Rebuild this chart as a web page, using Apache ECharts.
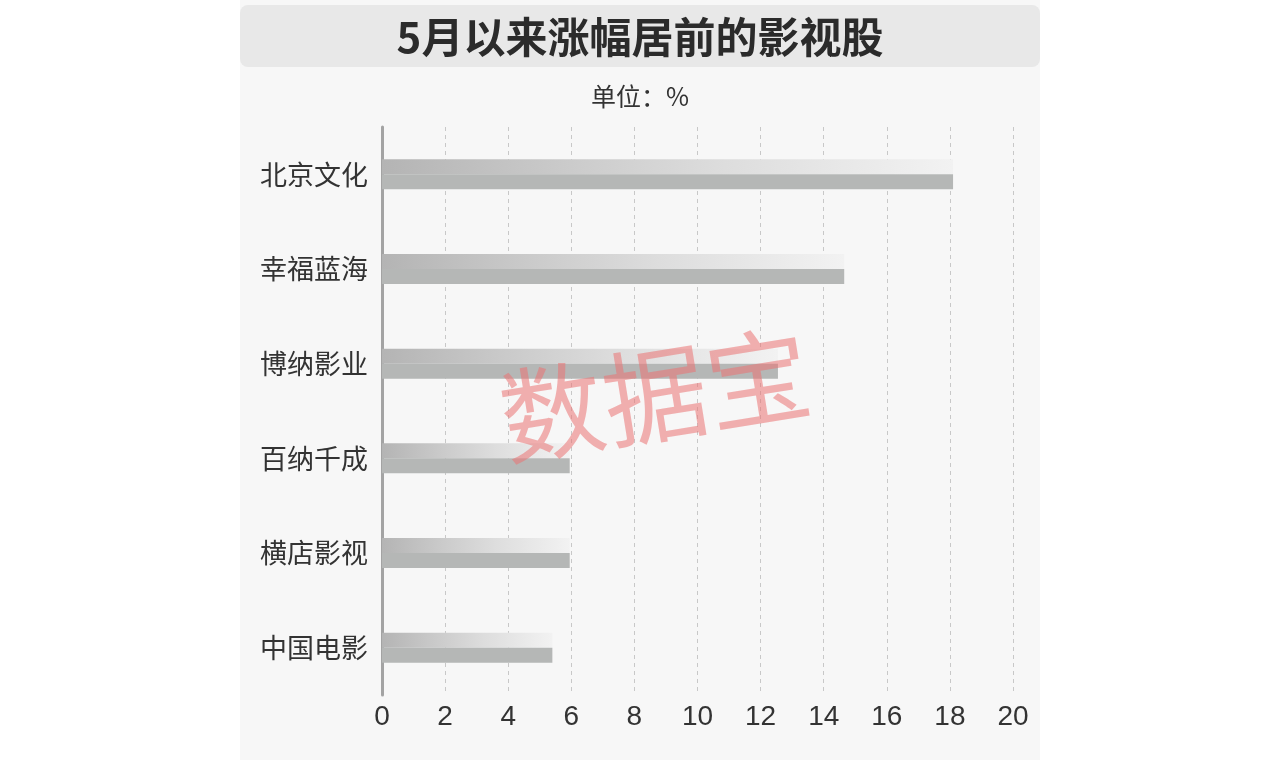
<!DOCTYPE html>
<html><head><meta charset="utf-8">
<script src="https://cdn.jsdelivr.net/npm/echarts@6/dist/echarts.min.js"></script>
<style>html,body{margin:0;padding:0;background:#ffffff;}#c{width:1280px;height:760px;}</style>
</head><body><div id="c"></div>
<script>
const categories = ['北京文化','幸福蓝海','博纳影业','百纳千成','横店影视','中国电影'];
const values = [18.1, 14.65, 12.55, 5.95, 5.95, 5.4];
const titleText = '5月以来涨幅居前的影视股';
const unitText = '单位：%';
const watermarkText = '数据宝';

const FONT = '"Noto Sans CJK SC","Noto Sans",sans-serif';
const chart = echarts.init(document.getElementById('c'), null, {renderer:'canvas'});
chart.setOption({
  backgroundColor: '#ffffff',
  animation: false,
  graphic: [
    {type:'rect', z:-10, shape:{x:240,y:0,width:800,height:760}, style:{fill:'#f7f7f7'}},
    {type:'rect', z:-9, shape:{x:240,y:5,width:800,height:62,r:8}, style:{fill:'#e8e8e8'}},
    {type:'text', x:640, y:37, style:{text:titleText, font:'bold 42px '+FONT, fill:'#2b2b2b', align:'center', verticalAlign:'middle'}},
    {type:'text', x:640, y:96, style:{text:unitText, font:'25px '+FONT, fill:'#333', align:'center', verticalAlign:'middle'}},
    {type:'text', x:655, y:395, rotation:0.16, z:100, style:{text:watermarkText, font:'104px '+FONT, fill:'rgba(235,115,115,0.55)', align:'center', verticalAlign:'middle'}}
  ],
  grid: {left:382, right:267, top:127, bottom:65, containLabel:false},
  xAxis: {
    type:'value', min:0, max:20, interval:2,
    axisLine:{show:false}, axisTick:{show:false},
    axisLabel:{color:'#333', fontSize:28, fontFamily:'Liberation Sans, Roboto, sans-serif', margin:8},
    splitLine:{show:true, lineStyle:{type:[4,4], color:'#c8c8c8', width:1}}
  },
  yAxis: {
    type:'category', data:categories, inverse:true,
    axisLine:{show:true, lineStyle:{color:'#a3a3a3', width:3}},
    axisTick:{show:false},
    axisLabel:{color:'#333', fontSize:27, fontFamily:FONT, margin:14}
  },
  series: [
    {type:'bar', data:values, barWidth:15, barGap:'0%',
     itemStyle:{color:new echarts.graphic.LinearGradient(0,0,1,0,[
       {offset:0,color:'#b4b4b4'},{offset:0.3,color:'#c9c9c9'},{offset:0.6,color:'#dddddd'},{offset:1,color:'#f2f2f2'}])}},
    {type:'bar', data:values, barWidth:15, barGap:'0%',
     itemStyle:{color:'#b5b7b6'}}
  ]
});
</script></body></html>
